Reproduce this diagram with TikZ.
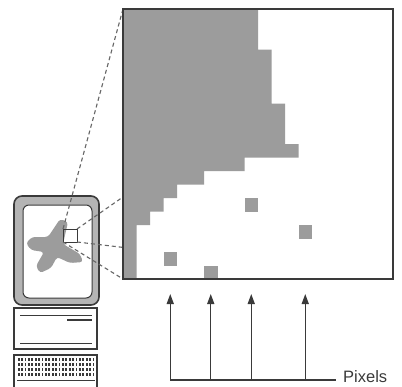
\documentclass[tikz,border=0pt]{standalone}
\usepackage{fontspec}
\setmainfont{Liberation Sans}
\usetikzlibrary{arrows.meta}
\definecolor{pixgray}{HTML}{9C9C9C}
\definecolor{bezel}{HTML}{B4B4B4}
\definecolor{ink}{HTML}{3A3A3A}
\begin{document}
\begin{tikzpicture}[x=1pt,y=-1pt,
  outline/.style={draw=ink, line width=1.6pt},
  thinline/.style={draw=ink, line width=1pt},
  pixfill/.style={fill=pixgray},
  cone/.style={draw=black!60, line width=1.1pt, dash pattern=on 4pt off 3pt},
  pointer/.style={draw=ink, line width=1.4pt, -{Triangle[length=10pt,width=7pt]}},
  label/.style={font=\fontsize{16.5}{16.5}\selectfont, text=ink, inner sep=0pt, anchor=base west},
]
\useasboundingbox (0,0) rectangle (402,386);

% monitor
\draw[outline, fill=bezel, rounded corners=8pt] (14,196) rectangle (99,305);
\draw[thinline, fill=white, rounded corners=6pt] (23,205) rectangle (92,298);

% image on the screen
\fill[pixgray, rounded corners=3pt] (48,237) -- (60,219) -- (68,222) -- (63,244)
  -- (80,254) -- (83,262) -- (70,263) -- (57,257) -- (51,268) -- (40,273)
  -- (36,266) -- (44,252) -- (31,250) -- (26,243) -- (32,237) -- cycle;

% magnified area on the screen
\coordinate (zTL) at (63,229);
\coordinate (zTR) at (77,229);
\coordinate (zBL) at (63,242);
\coordinate (zBR) at (77,242);
\draw[thinline] (zTL) rectangle (zBR);

% system unit
\draw[outline, fill=white] (14,308) rectangle (97,349);
\draw[thinline] (20,315) -- (92,315);
\draw[ink, line width=2pt] (67,320) -- (92,320);
\draw[thinline] (20,343) -- (92,343);

% keyboard
\draw[outline, fill=white] (14,355) rectangle (97,392);
\foreach \r in {359,364,369,374}
  \foreach \k in {0,...,22}
    \fill[ink] ({17.8+\k*3.4},\r-1.5) rectangle ({19.6+\k*3.4},\r+1.5);
\draw[thinline] (17,380) -- (95,380);

% corners of the enlarged view
\coordinate (gTL) at (123,9);
\coordinate (gTR) at (393,9);
\coordinate (gBL) at (123,279);
\coordinate (gBR) at (393,279);

% projection lines
\draw[cone] (zTL) -- (gTL);
\draw[cone] (zTR) -- (gTR);
\draw[cone] (zBL) -- (gBL);
\draw[cone] (zBR) -- (gBR);

% enlarged view
\fill[white] (gTL) rectangle (gBR);
\begin{scope}[shift={(gTL)}, x=13.5pt, y=-13.5pt]
  \fill[pixfill] (0,0) -- (10,0) -- (10,3) -- (11,3) -- (11,7) -- (12,7)
    -- (12,10) -- (13,10) -- (13,11) -- (9,11) -- (9,12) -- (6,12) -- (6,13)
    -- (4,13) -- (4,14) -- (3,14) -- (3,15) -- (2,15) -- (2,16) -- (1,16)
    -- (1,20) -- (0,20) -- cycle;
  \foreach \c/\r in {9/14, 13/16, 3/18, 6/19}
    \fill[pixfill] (\c,\r) rectangle ++(1,1);
\end{scope}
\draw[outline] (gTL) rectangle (gBR);

% pointers to single pixels
\node[label] (lab) at (343,382) {Pixels};
\foreach \n/\x in {a/170.25, b/210.75, c/251.25, d/305.25} {
  \coordinate (\n0) at (\x,380);
  \coordinate (\n1) at (\x,294);
  \draw[pointer] (\n0) -- (\n1);
}
\draw[ink, line width=1.4pt] (a0) -- (336,380);
\end{tikzpicture}
\end{document}
